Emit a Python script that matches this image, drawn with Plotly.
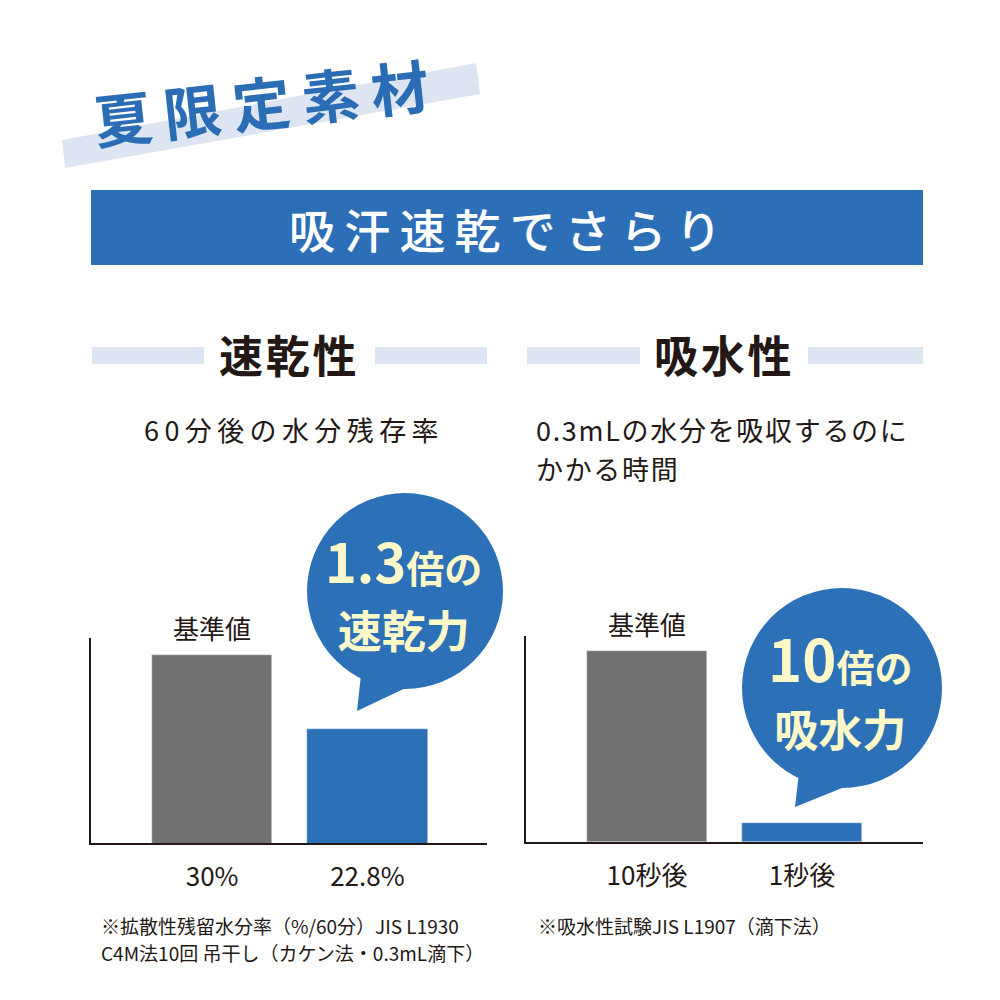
import plotly.graph_objects as go

# ---------------- data ----------------
dry_categories = ["30%", "22.8%"]
dry_values = [30, 22.8]
absorb_categories = ["10秒後", "1秒後"]
absorb_values = [10, 1]
bar_colors = ["#727171", "#2c70b8"]

title_text = "夏限定素材"
banner_text = "吸汗速乾でさらり"
left_header = "速乾性"
right_header = "吸水性"
left_sub = "60分後の水分残存率"
right_sub_1 = "0.3mLの水分を吸収するのに"
right_sub_2 = "かかる時間"
base_label = "基準値"
left_bubble = ["1.3", "倍の", "速乾力"]
right_bubble = ["10", "倍の", "吸水力"]
left_note_1 = "※拡散性残留水分率（%/60分）JIS L1930"
left_note_2 = "C4M法10回 吊干し（カケン法・0.3mL滴下）"
right_note = "※吸水性試験JIS L1907（滴下法）"

FONT = "Noto Sans CJK JP"
DARK = "#231815"
BLUE = "#2c70b8"
CREAM = "#fdf8c7"
PALE = "#dce5f1"


def px(x):
    return x / 1000.0


def py(y):
    return 1 - y / 1000.0


def spaced(s, sp="\u2009"):
    return sp.join(list(s))


fig = go.Figure()

fig.add_trace(go.Bar(x=dry_categories, y=dry_values, marker_color=bar_colors,
                     width=0.774, xaxis="x", yaxis="y", showlegend=False,
                     hoverinfo="skip"))
fig.add_trace(go.Bar(x=absorb_categories, y=absorb_values, marker_color=bar_colors,
                     width=0.774, xaxis="x2", yaxis="y2", showlegend=False,
                     hoverinfo="skip"))

axis_common_x = dict(type="category", showline=True, linecolor=DARK, linewidth=1.5,
                     ticks="", showgrid=False, zeroline=False,
                     tickfont=dict(family=FONT, size=26, color=DARK),
                     ticklabelstandoff=10, fixedrange=True)
axis_common_y = dict(showline=True, linecolor=DARK, linewidth=1.5, ticks="",
                     showticklabels=False, showgrid=False, zeroline=False,
                     fixedrange=True)

fig.update_layout(
    width=1000, height=1000,
    margin=dict(l=0, r=0, t=0, b=0),
    paper_bgcolor="white", plot_bgcolor="white",
    bargap=0,
    xaxis=dict(domain=[px(91), px(487)], range=[-0.78, 1.77], anchor="y", **axis_common_x),
    yaxis=dict(domain=[py(843), py(638)], range=[11.7, 31.7], anchor="x", **axis_common_y),
    xaxis2=dict(domain=[px(526), px(923)], range=[-0.78, 1.78], anchor="y2", **axis_common_x),
    yaxis2=dict(domain=[py(842), py(636)], range=[0, 10.8], anchor="x2", **axis_common_y),
)

shapes = []
# slanted pale band behind title
shapes.append(dict(type="path", xref="paper", yref="paper", layer="below",
                   path=f"M {px(62)},{py(140)} L {px(476)},{py(63)} L {px(480)},{py(94)} L {px(65)},{py(168)} Z",
                   fillcolor=PALE, line=dict(width=0)))
# banner
shapes.append(dict(type="rect", xref="paper", yref="paper", layer="below",
                   x0=px(91), x1=px(923), y0=py(265), y1=py(190),
                   fillcolor="#2d6fb7", line=dict(width=0)))
# header lines
for (a, b) in [(92, 204), (375, 487), (527, 640), (808, 923)]:
    shapes.append(dict(type="rect", xref="paper", yref="paper", layer="below",
                       x0=px(a), x1=px(b), y0=py(364), y1=py(347),
                       fillcolor=PALE, line=dict(width=0)))
# speech bubbles
for (cx, cy, r, tail) in [
    (405, 591, 98, [(362, 666), (357, 711), (414, 684)]),
    (842, 688, 100, [(800, 764), (795, 807), (852, 784)]),
]:
    shapes.append(dict(type="circle", xref="paper", yref="paper",
                       x0=px(cx - r), x1=px(cx + r), y0=py(cy + r), y1=py(cy - r),
                       fillcolor=BLUE, line=dict(width=0)))
    p = "M " + " L ".join(f"{px(x)},{py(y)}" for x, y in tail) + " Z"
    shapes.append(dict(type="path", xref="paper", yref="paper", path=p,
                       fillcolor=BLUE, line=dict(width=0)))
fig.update_layout(shapes=shapes)

ann = []


def text(x, y, s, size, color=DARK, weight="normal", xanchor="center", angle=0):
    ann.append(dict(x=px(x), y=py(y), xref="paper", yref="paper", text=s,
                    showarrow=False, xanchor=xanchor, yanchor="middle",
                    textangle=angle, borderpad=0,
                    font=dict(family=FONT, size=size, color=color, weight=weight)))


text(261, 101, spaced(title_text), 58, color="#2b6db4", weight="bold", angle=-6.3)
text(505, 228, spaced(banner_text), 46, color="white", weight=500)
text(288, 354, spaced(left_header, "\u200a"), 44, weight="bold")
text(723, 354, spaced(right_header, "\u200a"), 44, weight="bold")
text(143, 430, spaced(left_sub, "\u2009"), 27, xanchor="left")
text(535, 430, spaced(right_sub_1, "\u200a"), 27, xanchor="left")
text(535, 468, spaced(right_sub_2, "\u200a"), 27, xanchor="left")


def bubble(x, y, parts, big):
    s = (f"<span style='font-size:{big}px'>{parts[0]}</span>"
         f"<span style='font-size:38px'>{parts[1]}</span><br>"
         f"<span style='font-size:44px'>{parts[2]}</span>")
    ann.append(dict(x=px(x), y=py(y), xref="paper", yref="paper", text=s,
                    showarrow=False, xanchor="center", yanchor="middle",
                    align="center", borderpad=0,
                    font=dict(family=FONT, size=50, color=CREAM, weight="bold")))


bubble(403, 590, left_bubble, 54)
bubble(840, 687, right_bubble, 58)

# footnotes
text(100, 925, left_note_1, 19, xanchor="left")
text(100, 952, left_note_2, 19, xanchor="left")
text(537, 925, right_note, 19, xanchor="left")

# base labels above gray bars (data-anchored)
ann.append(dict(x=0, y=dry_values[0], xref="x", yref="y", text=base_label,
                showarrow=False, yanchor="middle", yshift=28,
                font=dict(family=FONT, size=26, color=DARK)))
ann.append(dict(x=0, y=absorb_values[0], xref="x2", yref="y2", text=base_label,
                showarrow=False, yanchor="middle", yshift=28,
                font=dict(family=FONT, size=26, color=DARK)))

fig.update_layout(annotations=ann)

fig.write_html("out.html", config={"displayModeBar": False},
               post_script="document.body.style.margin='0';document.body.style.overflow='hidden';")
